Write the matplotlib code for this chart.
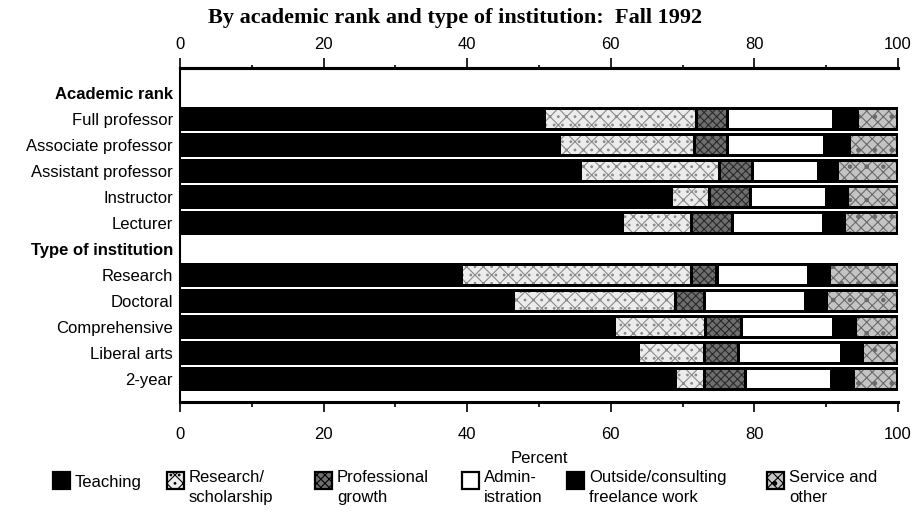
import matplotlib
matplotlib.use("Agg")
import matplotlib.pyplot as plt
from matplotlib.patches import Rectangle
import numpy as np

plt.rcParams['font.family'] = ['Liberation Sans', 'DejaVu Sans']
plt.rcParams['hatch.linewidth'] = 0.8

# row labels, top to bottom (header rows get no bar)
rows = ["Academic rank", "Full professor", "Associate professor", "Assistant professor",
        "Instructor", "Lecturer", "Type of institution", "Research", "Doctoral",
        "Comprehensive", "Liberal arts", "2-year"]
headers = ["Academic rank", "Type of institution"]

# percent of time, per activity (one value per bar row)
teaching = [50.7, 52.8, 55.7, 68.4, 61.6, 39.2, 46.4, 60.5, 63.8, 69.0]
research = [21.2, 18.9, 19.4, 5.4, 9.6, 32.0, 22.6, 12.7, 9.2, 4.0]
prof_growth = [4.3, 4.5, 4.6, 5.7, 5.7, 3.6, 4.0, 5.0, 4.8, 5.8]
admin = [14.9, 13.6, 9.3, 10.6, 12.7, 12.8, 14.1, 12.8, 14.3, 11.9]
outside = [3.3, 3.4, 2.5, 2.9, 2.9, 2.9, 2.9, 3.0, 2.9, 3.1]
service = [5.6, 6.8, 8.5, 7.0, 7.5, 9.5, 10.0, 6.0, 5.0, 6.2]

series = [
    ("Teaching", teaching, dict(facecolor="black", edgecolor="black", hatch=None)),
    ("Research/\nscholarship", research, dict(facecolor="#ececec", edgecolor="#8a8a8a", hatch="xx..")),
    ("Professional\ngrowth", prof_growth, dict(facecolor="#6e6e6e", edgecolor="#2a2a2a", hatch="xxxx")),
    ("Admin-\nistration", admin, dict(facecolor="white", edgecolor="white", hatch=None)),
    ("Outside/consulting\nfreelance work", outside, dict(facecolor="black", edgecolor="black", hatch=None)),
    ("Service and\nother", service, dict(facecolor="#c4c4c4", edgecolor="#6a6a6a", hatch="xxx.")),
]

fig = plt.figure(figsize=(9.2, 5.12), dpi=100)
ax = fig.add_axes([180 / 920, 1 - 402 / 512, 718 / 920, 334 / 512])

bar_rows = [i for i, r in enumerate(rows) if r not in headers]
ypos = np.array(bar_rows)
totals = np.sum([s[1] for s in series], axis=0)

# black base bar, lighter segments inset on top
ax.barh(ypos, totals, height=0.9, color="black", zorder=1)

lefts = np.zeros(len(ypos))
gap = 0.45
for name, vals, st in series:
    vals = np.array(vals)
    if st["facecolor"] != "black":
        ax.barh(ypos, vals - gap, left=lefts + gap / 2, height=0.68,
                facecolor=st["facecolor"], edgecolor=st["edgecolor"],
                hatch=st["hatch"], linewidth=0, zorder=2)
    lefts += vals

ax.set_xlim(0, 100)
ax.set_ylim(11.88, -0.96)
ax.set_yticks(range(len(rows)))
ax.set_yticklabels(rows, fontsize=12)
for lab in ax.get_yticklabels():
    if lab.get_text() in headers:
        lab.set_fontweight("bold")
ax.tick_params(axis="y", length=0, pad=5)

ax.set_xticks(np.arange(0, 101, 20))
ax.set_xticks(np.arange(10, 100, 20), minor=True)
ax.tick_params(axis="x", which="both", labelsize=12, direction="out", width=1.2, pad=11)
ax.tick_params(axis="x", which="major", length=7.2)
ax.tick_params(axis="x", which="minor", length=3.5)
ax.spines["right"].set_visible(False)
ax.spines["top"].set_linewidth(2.2)
ax.spines["bottom"].set_linewidth(2.2)
ax.spines["left"].set_linewidth(1.5)
ax.set_xlabel("Percent", fontsize=12, labelpad=6)

top = ax.secondary_xaxis("top")
top.set_xticks(np.arange(0, 101, 20))
top.set_xticks(np.arange(10, 100, 20), minor=True)
top.tick_params(axis="x", which="both", labelsize=12, direction="out", width=1.2, pad=4)
top.tick_params(axis="x", which="major", length=7.2)
top.tick_params(axis="x", which="minor", length=2.5)
top.spines["top"].set_linewidth(2.2)

fig.text(0.495, 1 - 18 / 512, "By academic rank and type of institution:  Fall 1992",
         ha="center", va="center", fontsize=16, fontweight="bold",
         family=["Liberation Serif", "DejaVu Serif"])

# legend along the bottom
leg_x = [53, 167, 315, 462, 567, 767]
sq = 17
for (name, vals, st), x in zip(series, leg_x):
    fig.patches.append(Rectangle((x / 920, 1 - 489 / 512), sq / 920, sq / 512,
                                 transform=fig.transFigure, facecolor=st["facecolor"],
                                 edgecolor="black", hatch=st["hatch"], linewidth=1.6))
    if "\n" in name:
        fig.text((x + sq + 5) / 920, 1 - 470 / 512, name, ha="left", va="top",
                 fontsize=12, linespacing=1.45)
    else:
        fig.text((x + sq + 5) / 920, 1 - 483 / 512, name, ha="left", va="center",
                 fontsize=12)

fig.savefig("out.png", dpi=100)
